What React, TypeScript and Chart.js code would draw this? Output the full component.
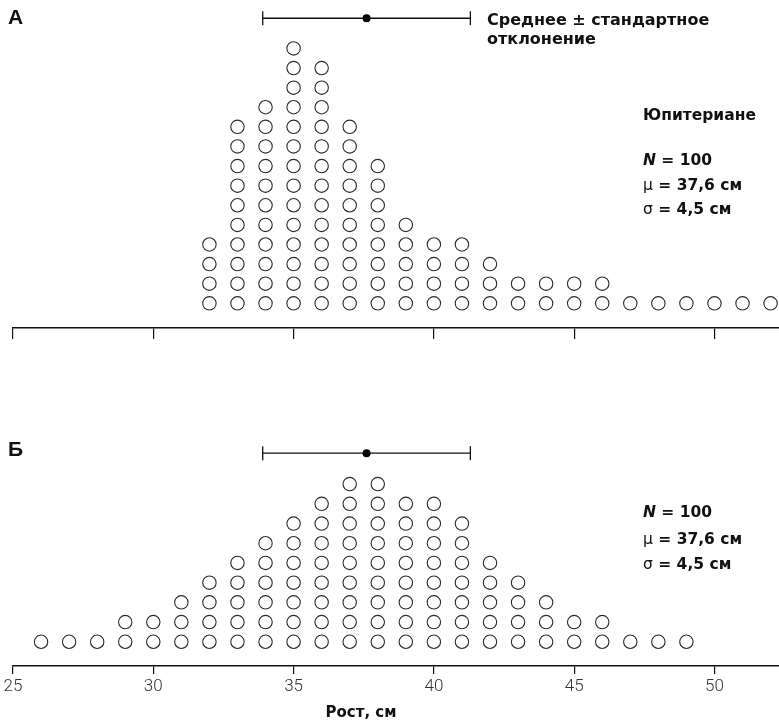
import React, { useEffect, useRef } from "react";
import { Chart, registerables } from "chart.js";

Chart.register(...registerables);

// ---------- data ----------
const heightsA = [32, 33, 34, 35, 36, 37, 38, 39, 40, 41, 42, 43, 44, 45, 46, 47, 48, 49, 50, 51, 52];
const countsA = [4, 10, 11, 14, 13, 10, 8, 5, 4, 4, 3, 2, 2, 2, 2, 1, 1, 1, 1, 1, 1];

const heightsB = [26, 27, 28, 29, 30, 31, 32, 33, 34, 35, 36, 37, 38, 39, 40, 41, 42, 43, 44, 45, 46, 47, 48, 49];
const countsB = [1, 1, 1, 2, 2, 3, 4, 5, 6, 7, 8, 9, 9, 8, 8, 7, 5, 4, 3, 2, 2, 1, 1, 1];

const meanA = 37.6;
const barLowA = 33.9;
const barHighA = 41.3;
const meanB = 37.6;
const barLowB = 33.9;
const barHighB = 41.3;

const xTicks = [25, 30, 35, 40, 45, 50];
const xMin = 25;
const xMax = 52.3;

const labelA = "А";
const labelB = "Б";
const legendLines = ["Среднее ± стандартное", "отклонение"];
const groupName = "Юпитериане";
const statN = "100";
const statMu = "37,6 см";
const statSigma = "4,5 см";
const axisTitle = "Рост, см";

// ---------- helpers ----------
const FONT = '"DejaVu Sans", "Liberation Sans", Arial, sans-serif';
const FONT2 = '"Liberation Sans", Arial, Helvetica, sans-serif';

type Seg = { t: string; style: string };

function dotPoints(xs: number[], counts: number[]) {
  const pts: { x: number; y: number }[] = [];
  xs.forEach((x, i) => {
    for (let k = 1; k <= counts[i]; k++) pts.push({ x, y: k });
  });
  return pts;
}

function drawSegs(
  ctx: CanvasRenderingContext2D,
  x: number,
  y: number,
  segs: Seg[],
  size: number,
  family: string = FONT
) {
  let cx = x;
  for (const s of segs) {
    ctx.font = `${s.style} ${size}px ${family}`;
    ctx.fillText(s.t, cx, y);
    cx += ctx.measureText(s.t).width;
  }
}

function statLines(): Seg[][] {
  return [
    [
      { t: "N", style: "italic bold" },
      { t: " = " + statN, style: "bold" },
    ],
    [
      { t: "μ", style: "normal" },
      { t: " = " + statMu, style: "bold" },
    ],
    [
      { t: "σ", style: "normal" },
      { t: " = " + statSigma, style: "bold" },
    ],
  ];
}

function makeConfig(panel: "A" | "B"): any {
  const isB = panel === "B";
  const xs = isB ? heightsB : heightsA;
  const cs = isB ? countsB : countsA;
  const mean = isB ? meanB : meanA;
  const lo = isB ? barLowB : barLowA;
  const hi = isB ? barHighB : barHighA;
  const yMin = isB ? -0.23 : -0.26;
  const yMax = isB ? 16.06 : 16.47;
  const barY = isB ? 10.57 : 15.54;
  const axisH = isB ? 56 : 17;

  const annot = {
    id: "annot" + panel,
    afterDraw(chart: any) {
      const ctx = chart.ctx as CanvasRenderingContext2D;
      ctx.save();
      ctx.fillStyle = "#111";
      ctx.textBaseline = "middle";
      ctx.textAlign = "left";
      if (!isB) {
        drawSegs(ctx, 8, 18, [{ t: labelA, style: "900" }], 21, FONT2);
        drawSegs(ctx, 487, 21, [{ t: legendLines[0], style: "bold" }], 16);
        drawSegs(ctx, 487, 40, [{ t: legendLines[1], style: "bold" }], 16);
        drawSegs(ctx, 643, 116, [{ t: groupName, style: "bold" }], 15.5);
        const lines = statLines();
        const ys = [161, 186, 210];
        lines.forEach((l, i) => drawSegs(ctx, 643, ys[i], l, 15.5));
      } else {
        drawSegs(ctx, 8, 105, [{ t: labelB, style: "900" }], 21, FONT2);
        const lines = statLines();
        const ys = [168, 195, 220];
        lines.forEach((l, i) => drawSegs(ctx, 643, ys[i], l, 15.5));
        ctx.textAlign = "center";
        drawSegs(ctx, 361, 368, [{ t: axisTitle, style: "bold" }], 15);
      }
      ctx.restore();
    },
  };

  return {
    type: "scatter",
    data: {
      datasets: [
        {
          data: dotPoints(xs, cs),
          pointRadius: 6.7,
          pointBorderWidth: 1.1,
          pointBorderColor: "#2a2a2a",
          pointBackgroundColor: "rgba(255,255,255,0)",
          showLine: false,
          clip: false,
        },
        {
          data: [
            { x: lo, y: barY },
            { x: hi, y: barY },
          ],
          showLine: true,
          borderColor: "#111",
          borderWidth: 1.3,
          pointStyle: "line",
          rotation: 90,
          pointRadius: 7,
          pointBorderWidth: 1.3,
          pointBorderColor: "#111",
          clip: false,
        },
        {
          data: [{ x: mean, y: barY }],
          pointRadius: 4,
          pointBackgroundColor: "#000",
          pointBorderColor: "#000",
          pointBorderWidth: 0,
          clip: false,
        },
      ],
    },
    options: {
      responsive: false,
      maintainAspectRatio: false,
      animation: false,
      events: [],
      layout: { autoPadding: false, padding: { left: 13, right: 0, top: 0, bottom: 0 } },
      plugins: { legend: { display: false }, tooltip: { enabled: false } },
      scales: {
        x: {
          type: "linear",
          min: xMin,
          max: xMax,
          afterFit: (s: any) => {
            s.height = axisH;
          },
          afterBuildTicks: (s: any) => {
            s.ticks = xTicks.map((v) => ({ value: v }));
          },
          border: { display: true, color: "#111", width: 1.6 },
          grid: {
            display: true,
            drawOnChartArea: false,
            drawTicks: true,
            tickLength: isB ? 8 : 11,
            color: "#111",
            lineWidth: 1.2,
          },
          ticks: {
            display: isB,
            autoSkip: false,
            maxRotation: 0,
            padding: 3,
            color: "#333",
            font: { family: "Roboto, Inter, sans-serif", size: 17, weight: "300" },
          },
        },
        y: { display: false, min: yMin, max: yMax },
      },
    },
    plugins: [annot],
  };
}

export default function App() {
  const refA = useRef<HTMLCanvasElement>(null);
  const refB = useRef<HTMLCanvasElement>(null);
  useEffect(() => {
    document.body.style.margin = "0";
    const a = new Chart(refA.current as HTMLCanvasElement, makeConfig("A"));
    const b = new Chart(refB.current as HTMLCanvasElement, makeConfig("B"));
    return () => {
      a.destroy();
      b.destroy();
    };
  }, []);
  return (
    <div style={{ width: 779, height: 722, background: "#fff" }}>
      <canvas ref={refA} width={779} height={345} style={{ display: "block" }} />
      <canvas ref={refB} width={779} height={377} style={{ display: "block" }} />
    </div>
  );
}
